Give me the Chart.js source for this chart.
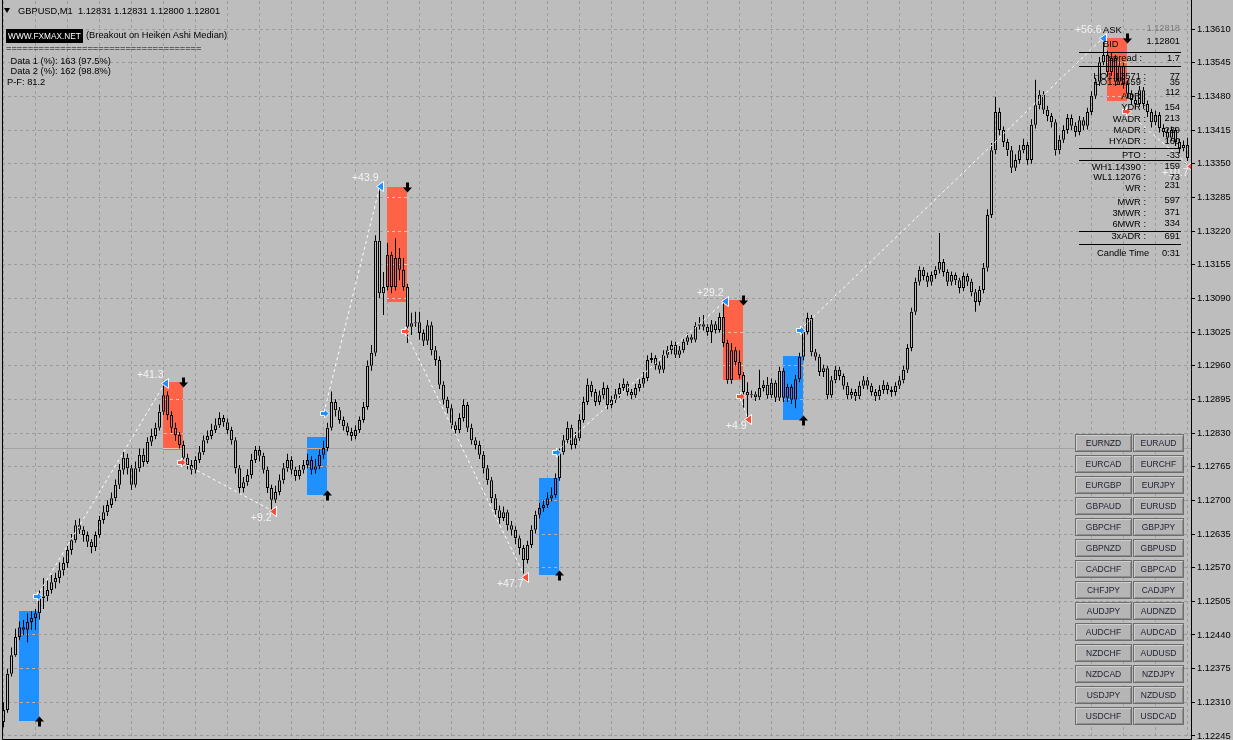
<!DOCTYPE html>
<html lang="en">
<head>
<meta charset="UTF-8">
<title>GBPUSD,M1</title>
<script src="https://cdn.jsdelivr.net/npm/chart.js"></script>
<style>
  body { margin: 0; background: #bdbdbd; }
  #wrap { position: relative; width: 1233px; height: 740px; overflow: hidden;
          font-family: "Liberation Sans", Arial, sans-serif; font-size: 9.3px; color: #000; }
  canvas { position: absolute; left: 0; top: 0; }
  .t { position: absolute; white-space: pre; line-height: 12px; }
  .r { position: absolute; white-space: pre; line-height: 12px; text-align: right; }
  .hr { position: absolute; left: 1079px; width: 102px; height: 1px; background: #000; }
  .tri { position: absolute; left: 4px; top: 8px; width: 0; height: 0;
         border-left: 3.5px solid transparent; border-right: 3.5px solid transparent; border-top: 5px solid #000; }
  .brand { position: absolute; left: 6px; top: 29px; width: 77px; height: 14px; background: #000; color: #fff;
           font-size: 8.3px; line-height: 14px; text-align: center; }
  .btn { position: absolute; height: 16px; background: #b5b5b5; border: 1px solid #6c6c6c;
         box-shadow: inset 1px 1px 0 #cfcfcf, inset -1px -1px 0 #8e8e8e;
         font-size: 8.5px; line-height: 16px; text-align: center; color: #1e2030; }
</style>
</head>
<body>
<div id="wrap">
  <canvas id="chart" width="1233" height="740"></canvas>

  <!-- header -->
  <div class="tri"></div>
  <div class="t" style="left:18px;top:5px">GBPUSD,M1  1.12831 1.12831 1.12800 1.12801</div>
  <div class="brand">WWW.FXMAX.NET</div>
  <div class="t" style="left:86px;top:29px">(Breakout on Heiken Ashi Median)</div>
  <div class="t" style="left:6px;top:42px">====================================</div>
  <div class="t" style="left:8px;top:55px"> Data 1 (%): 163 (97.5%)</div>
  <div class="t" style="left:8px;top:65px"> Data 2 (%): 162 (98.8%)</div>
  <div class="t" style="left:7px;top:76px">P-F: 81.2</div>

  <!-- info panel -->
  <div class="t" style="left:1103px;top:24px">ASK</div>
  <div class="r" style="right:53px;top:22px;color:#7c7c7c">1.12818</div>
  <div class="t" style="left:1103px;top:38px">BID</div>
  <div class="r" style="right:53px;top:35px">1.12801</div>
  <div class="hr" style="top:52px"></div>
  <div class="r" style="right:91px;top:52px">spread :</div>
  <div class="r" style="right:53px;top:52px">1.7</div>
  <div class="hr" style="top:66px"></div>
  <div class="r" style="right:87px;top:70px">HO1.13571 :</div>
  <div class="r" style="right:53px;top:70px">77</div>
  <div class="r" style="right:87px;top:76px">LO1.12459 :</div>
  <div class="r" style="right:53px;top:76px">35</div>
  <div class="r" style="right:87px;top:90px">ADR :</div>
  <div class="r" style="right:53px;top:86px">112</div>
  <div class="r" style="right:87px;top:101px">YDR :</div>
  <div class="r" style="right:53px;top:101px">154</div>
  <div class="r" style="right:87px;top:113px">WADR :</div>
  <div class="r" style="right:53px;top:112px">213</div>
  <div class="r" style="right:87px;top:124px">MADR :</div>
  <div class="r" style="right:53px;top:124px">239</div>
  <div class="r" style="right:87px;top:135px">HYADR :</div>
  <div class="r" style="right:53px;top:135px">160</div>
  <div class="hr" style="top:148px"></div>
  <div class="r" style="right:87px;top:149px">PTO :</div>
  <div class="r" style="right:53px;top:149px">-33</div>
  <div class="hr" style="top:160px"></div>
  <div class="r" style="right:87px;top:161px">WH1.14390 :</div>
  <div class="r" style="right:53px;top:160px">159</div>
  <div class="r" style="right:87px;top:171px">WL1.12076 :</div>
  <div class="r" style="right:53px;top:171px">73</div>
  <div class="r" style="right:87px;top:182px">WR :</div>
  <div class="r" style="right:53px;top:179px">231</div>
  <div class="r" style="right:87px;top:196px">MWR :</div>
  <div class="r" style="right:53px;top:194px">597</div>
  <div class="r" style="right:87px;top:207px">3MWR :</div>
  <div class="r" style="right:53px;top:206px">371</div>
  <div class="r" style="right:87px;top:218px">6MWR :</div>
  <div class="r" style="right:53px;top:217px">334</div>
  <div class="hr" style="top:231px"></div>
  <div class="r" style="right:87px;top:230px">3xADR :</div>
  <div class="r" style="right:53px;top:230px">691</div>
  <div class="hr" style="top:244px"></div>
  <div class="t" style="left:1097px;top:247px">Candle Time</div>
  <div class="r" style="right:53px;top:247px">0:31</div>

  <div id="buttons"></div>
</div>

<script>
  // prices are stored in points (0.00001) above BASE
  const BASE = 1.12;
  const firstOpen = 272;
  const closes = [
    295,365,401,436,455,450,465,473,482,511, 515,527,542,550,565,579,604,623,652,643,
    633,620,610,633,662,677,691,704,730,759, 782,762,730,762,788,774,813,824,840,871,
    903,865,840,826,807,782,768,759,778,793, 816,824,836,845,859,851,836,816,762,724,
    735,749,778,797,786,759,724,701,716,739, 762,778,759,747,759,768,778,759,766,788,
    801,840,890,874,855,843,832,824,836,855, 880,960,985,1201,1100,1112,1174,1112,1168,1145,
    1112,1035,1042,1044,1023,1008,1038,990,971,923, 894,878,845,836,859,884,840,816,807,788,
    762,739,704,681,666,677,652,643,627,608, 585,614,643,672,685,691,704,710,743,793,
    816,840,807,820,855,890,923,909,890,903, 917,884,894,905,917,925,909,903,917,925,
    936,971,975,961,952,981,990,1000,981,990, 1006,1015,1010,1037,1040,1035,1025,1040,1029,1054,
    1004,932,990,967,942,909,903,905,899,917, 923,903,927,898,950,898,919,894,934,977,
    1025,1052,986,977,948,955,903,932,952,940, 921,903,909,901,921,932,921,909,901,913,
    923,913,909,921,932,952,994,1064,1122,1145, 1133,1122,1135,1145,1160,1141,1122,1135,1125,1110,
    1133,1122,1102,1083,1106,1149,1251,1376,1450,1415, 1392,1376,1342,1357,1376,1386,1357,1425,1463,1483,
    1454,1442,1430,1376,1396,1415,1438,1423,1411,1434, 1423,1450,1481,1508,1546,1560,1527,1554,1508,1539,
    1504,1485,1473,1465,1492,1465,1450,1430,1444,1419, 1411,1400,1415,1392,1380,1386,1361
  ];
  const highs = [
    310,375,416,452,466,469,482,486,490,526, 550,545,556,560,580,590,612,635,662,665,
    650,640,625,640,670,690,700,715,740,770, 795,790,768,775,800,800,822,838,850,885,
    925,910,872,850,832,815,790,778,785,805, 825,835,848,858,870,865,858,842,822,768,
    745,760,790,805,805,792,765,730,728,750, 772,790,785,765,768,778,790,785,780,798,
    815,850,910,895,880,862,850,840,845,862, 890,970,1000,1212,1303,1141,1197,1180,1206,1187,
    1168,1118,1062,1064,1064,1030,1048,1045,998,978, 930,900,885,852,868,895,890,848,822,815,
    795,768,745,712,690,688,682,660,650,632, 614,622,652,680,695,700,715,725,752,800,
    826,852,846,832,866,900,935,930,915,912, 928,922,902,915,926,935,930,915,925,934,
    948,980,985,980,968,990,998,1008,1006,998, 1012,1022,1020,1044,1054,1058,1040,1048,1046,1062,
    1087,1010,1004,996,990,948,928,912,910,952, 932,938,935,932,958,955,925,924,942,985,
    1032,1062,1058,992,982,962,960,940,960,958, 945,928,916,915,930,940,938,926,915,922,
    932,928,920,928,940,960,1002,1072,1130,1152, 1150,1140,1142,1152,1216,1166,1146,1142,1140,1130,
    1140,1138,1128,1108,1114,1158,1262,1390,1479,1458, 1422,1398,1384,1368,1386,1398,1392,1436,1512,1492,
    1490,1462,1448,1436,1405,1424,1446,1445,1430,1442, 1440,1458,1490,1516,1556,1592,1568,1565,1560,1548,
    1545,1510,1492,1480,1500,1498,1472,1456,1452,1450, 1426,1418,1422,1420,1398,1395,1400
  ];
  const lows = [
    262,290,360,398,430,440,426,450,450,470, 490,505,520,530,540,555,570,595,618,635,
    620,610,598,602,628,655,670,685,698,722, 750,750,720,725,755,765,770,805,818,835,
    865,855,830,815,800,770,760,750,752,772, 788,810,818,830,840,842,828,808,752,712,
    715,728,742,772,775,752,714,680,695,710, 732,755,750,738,740,752,762,750,752,760,
    780,795,835,862,848,835,825,815,818,830, 850,875,950,978,1090,1058,1105,1100,1105,1125,
    1105,1004,1019,1035,1010,998,1000,980,960,915, 885,868,838,825,830,852,832,808,798,780,
    752,730,695,672,655,660,642,632,615,595, 556,578,608,636,665,678,685,698,705,738,
    788,810,798,800,815,850,884,900,882,884, 896,876,878,888,898,910,902,895,898,910,
    918,930,965,952,945,946,975,982,975,975, 985,1000,1004,1005,1030,1028,1018,1004,1022,1024,
    996,925,925,960,935,878,861,898,892,894, 910,896,898,890,892,890,890,886,878,928,
    970,1020,978,970,940,938,895,898,926,932, 914,895,896,892,895,915,914,902,892,894,
    906,905,900,902,915,926,946,988,1058,1115, 1125,1112,1115,1128,1138,1132,1114,1115,1116,1100,
    1104,1114,1094,1064,1076,1100,1142,1245,1368,1405, 1382,1365,1332,1336,1350,1370,1348,1350,1418,1455,
    1446,1432,1420,1366,1368,1390,1408,1415,1402,1405, 1415,1416,1444,1475,1500,1540,1518,1520,1500,1502,
    1495,1476,1464,1456,1460,1456,1440,1420,1424,1410, 1402,1390,1394,1384,1370,1374,1355
  ];
  const yTickLabels = ['1.12245','1.12310','1.12375','1.12440','1.12505','1.12570','1.12635','1.12700',
    '1.12765','1.12830','1.12895','1.12960','1.13025','1.13090','1.13155','1.13220','1.13285',
    '1.13350','1.13415','1.13480','1.13545','1.13610'];
  const bidPrice = 801;

  // breakout boxes (candle index range, price range in points)
  const boxStart = [4, 40, 76, 96, 134, 180, 195, 276];
  const boxEnd   = [9, 45, 81, 101, 139, 185, 200, 281];
  const boxHigh  = [486, 928, 822, 1305, 743, 1087, 979, 1593];
  const boxLow   = [274, 797, 710, 1083, 556, 932, 855, 1471];
  const boxSide  = ['buy','sell','buy','sell','buy','sell','buy','sell'];

  // trades: entry / exit points and result
  const tradeEntryX = [8.4, 44.4, 80.1, 100.4, 138.1, 184.1, 199.1, 280.6];
  const tradeEntryP = [515, 774, 869, 1027, 793, 901, 1029, 1452];
  const tradeExitX  = [40.4, 67.4, 94.1, 130.4, 180.4, 186.1, 274.9, 296.6];
  const tradeExitP  = [927, 679, 1307, 552, 1085, 857, 1593, 1345];
  const tradeProfit = ['+41.3','+9.2','+43.9','+47.7','+29.2','+4.9','+56.6','+10.7'];
  const tradeSide   = ['buy','sell','buy','sell','buy','sell','buy','sell'];

  const btnLeft  = ['EURNZD','EURCAD','EURGBP','GBPAUD','GBPCHF','GBPNZD','CADCHF','CHFJPY','AUDJPY','AUDCHF','NZDCHF','NZDCAD','USDJPY','USDCHF'];
  const btnRight = ['EURAUD','EURCHF','EURJPY','EURUSD','GBPJPY','GBPUSD','GBPCAD','CADJPY','AUDNZD','AUDCAD','AUDUSD','NZDJPY','NZDUSD','USDCAD'];

  // symbol buttons
  const btnBox = document.getElementById('buttons');
  btnLeft.forEach((name, r) => {
    [[name, 1075, 55], [btnRight[r], 1133, 49]].forEach(([txt, left, w]) => {
      const b = document.createElement('div');
      b.className = 'btn';
      b.style.left = left + 'px';
      b.style.width = w + 'px';
      b.style.top = (434 + r * 21) + 'px';
      b.textContent = txt;
      btnBox.appendChild(b);
    });
  });

  const opens = closes.map((c, i) => i === 0 ? firstOpen : closes[i - 1]);
  const bodies = closes.map((c, i) => ({ x: i, y: [opens[i], c] }));
  const wicks = [];
  closes.forEach((c, i) => {
    const top = Math.max(opens[i], c), bot = Math.min(opens[i], c);
    wicks.push({ x: i, y: [top, highs[i]] });
    wicks.push({ x: i, y: [lows[i], bot] });
  });

  const BLUE = '#1e90ff', RED = '#ff6347';

  function clipArea(ctx, a) {
    ctx.beginPath();
    ctx.rect(a.left, a.top, a.right - a.left, a.bottom - a.top);
    ctx.clip();
  }

  function signalArrow(ctx, cx, cy, up) {
    const s = up ? 1 : -1;
    ctx.beginPath();
    ctx.moveTo(cx, cy - 5 * s);
    ctx.lineTo(cx + 4.5, cy);
    ctx.lineTo(cx + 1.5, cy);
    ctx.lineTo(cx + 1.5, cy + 5 * s);
    ctx.lineTo(cx - 1.5, cy + 5 * s);
    ctx.lineTo(cx - 1.5, cy);
    ctx.lineTo(cx - 4.5, cy);
    ctx.closePath();
    ctx.fillStyle = '#000';
    ctx.fill();
  }

  const overlay = {
    id: 'overlay',
    beforeDatasetsDraw(chart) {
      const { ctx, chartArea: a, scales: { x, y } } = chart;
      ctx.save();
      clipArea(ctx, a);
      const by = Math.round(y.getPixelForValue(bidPrice) - 0.5) + 0.5;
      ctx.lineWidth = 1;
      ctx.strokeStyle = '#a2a2a2';
      ctx.beginPath(); ctx.moveTo(a.left, by); ctx.lineTo(a.right, by); ctx.stroke();

      boxStart.forEach((s, k) => {
        const x0 = Math.floor(x.getPixelForValue(s));
        const x1 = Math.floor(x.getPixelForValue(boxEnd[k]));
        const y0 = Math.round(y.getPixelForValue(boxHigh[k]));
        const y1 = Math.round(y.getPixelForValue(boxLow[k]));
        const buy = boxSide[k] === 'buy';
        ctx.fillStyle = buy ? BLUE : RED;
        ctx.fillRect(x0, y0, x1 - x0, y1 - y0);
        // grid shows through the box in a lighter tint
        ctx.save();
        ctx.beginPath(); ctx.rect(x0, y0, x1 - x0, y1 - y0); ctx.clip();
        ctx.strokeStyle = buy ? '#d8a883' : '#f8c2b4';
        ctx.setLineDash([3, 3]);
        y.ticks.forEach(t => {
          const ty = Math.round(y.getPixelForValue(t.value) - 0.5) + 0.5;
          ctx.beginPath(); ctx.moveTo(a.left, ty); ctx.lineTo(a.right, ty); ctx.stroke();
        });
        ctx.setLineDash([]);
        ctx.beginPath(); ctx.moveTo(a.left, by); ctx.lineTo(a.right, by); ctx.stroke();
        ctx.restore();
      });
      ctx.restore();
    },
    afterDatasetsDraw(chart) {
      const { ctx, chartArea: a, scales: { x, y } } = chart;
      ctx.save();
      clipArea(ctx, a);

      // signal arrows at the far edge of each box
      boxStart.forEach((s, k) => {
        const buy = boxSide[k] === 'buy';
        const cx = Math.floor(x.getPixelForValue(boxEnd[k])) + 0.5;
        const cy = Math.round(y.getPixelForValue(buy ? boxLow[k] : boxHigh[k])) + 0.5;
        signalArrow(ctx, cx, cy, buy);
      });

      // trade lines
      ctx.strokeStyle = '#ffffff';
      ctx.lineWidth = 1;
      ctx.setLineDash([3, 3]);
      tradeProfit.forEach((p, k) => {
        ctx.beginPath();
        ctx.moveTo(x.getPixelForValue(tradeEntryX[k]), y.getPixelForValue(tradeEntryP[k]));
        ctx.lineTo(x.getPixelForValue(tradeExitX[k]), y.getPixelForValue(tradeExitP[k]));
        ctx.stroke();
      });
      ctx.setLineDash([]);

      tradeProfit.forEach((p, k) => {
        const buy = tradeSide[k] === 'buy';
        const col = buy ? BLUE : '#ff4a36';
        // entry: arrow pointing right
        let cx = Math.round(x.getPixelForValue(tradeEntryX[k])) + 0.5;
        let cy = Math.round(y.getPixelForValue(tradeEntryP[k])) + 0.5;
        ctx.beginPath();
        ctx.moveTo(cx - 4, cy - 2); ctx.lineTo(cx, cy - 2); ctx.lineTo(cx, cy - 4.5);
        ctx.lineTo(cx + 4.5, cy); ctx.lineTo(cx, cy + 4.5); ctx.lineTo(cx, cy + 2);
        ctx.lineTo(cx - 4, cy + 2); ctx.closePath();
        ctx.fillStyle = col; ctx.fill();
        ctx.strokeStyle = '#ffffff'; ctx.stroke();
        // exit: triangle pointing left
        cx = Math.round(x.getPixelForValue(tradeExitX[k])) + 0.5;
        cy = Math.round(y.getPixelForValue(tradeExitP[k])) + 0.5;
        ctx.beginPath();
        ctx.moveTo(cx - 4, cy); ctx.lineTo(cx + 3, cy - 5); ctx.lineTo(cx + 3, cy + 5); ctx.closePath();
        ctx.fillStyle = col; ctx.fill();
        ctx.strokeStyle = '#ffffff'; ctx.stroke();
        // result label
        ctx.font = '10.5px "Liberation Sans", Arial, sans-serif';
        ctx.fillStyle = '#f3f3f3';
        ctx.textAlign = 'right';
        ctx.textBaseline = 'middle';
        ctx.fillText(p, cx - 2, buy ? cy - 8 : cy + 7);
      });
      ctx.restore();
    },
    afterDraw(chart) {
      const { ctx, chartArea: a } = chart;
      ctx.save();
      ctx.strokeStyle = '#000';
      ctx.lineWidth = 1;
      ctx.beginPath();
      ctx.moveTo(a.left + 0.5, 0); ctx.lineTo(a.left + 0.5, a.bottom + 0.5);
      ctx.lineTo(a.right + 0.5, a.bottom + 0.5); ctx.lineTo(a.right + 0.5, 0);
      ctx.stroke();
      ctx.restore();
    }
  };

  Chart.defaults.font.family = '"Liberation Sans", Arial, sans-serif';

  new Chart(document.getElementById('chart'), {
    type: 'bar',
    data: {
      datasets: [
        { label: 'wicks', data: wicks, backgroundColor: '#000', borderWidth: 0,
          barThickness: 1, grouped: false, inflateAmount: 0, order: 2 },
        { label: 'bodies', data: bodies, backgroundColor: 'rgba(0,0,0,0)', borderColor: '#000',
          borderWidth: 1, borderSkipped: false, barThickness: 3, grouped: false, inflateAmount: 0, order: 1 }
      ]
    },
    options: {
      responsive: false,
      animation: false,
      events: [],
      layout: { padding: { left: 2, top: 1, right: 0, bottom: 1 } },
      plugins: { legend: { display: false }, tooltip: { enabled: false } },
      scales: {
        x: {
          type: 'linear', min: -0.375, max: 296.875, offset: false,
          ticks: { display: false, stepSize: 8, includeBounds: false },
          grid: { color: '#9c9c9c', drawTicks: false, tickLength: 0, offset: false },
          border: { display: false, dash: [3, 3] },
          afterFit: s => { s.height = 0; s.paddingLeft = 0; s.paddingRight = 0; }
        },
        y: {
          position: 'right', min: 239.2, max: 1664.1,
          afterBuildTicks: s => {
            s.ticks = yTickLabels.map(l => ({ value: Math.round((parseFloat(l) - BASE) * 1e5) }));
          },
          ticks: { callback: (v, i) => yTickLabels[i], color: '#000', font: { size: 9.3 },
                   padding: 2, autoSkip: false },
          grid: { color: '#9c9c9c', tickColor: '#000', tickLength: 4 },
          border: { display: false, dash: [3, 3] },
          afterFit: s => { s.width = 42; s.paddingTop = 0; s.paddingBottom = 0; }
        }
      }
    },
    plugins: [overlay]
  });
</script>
</body>
</html>
